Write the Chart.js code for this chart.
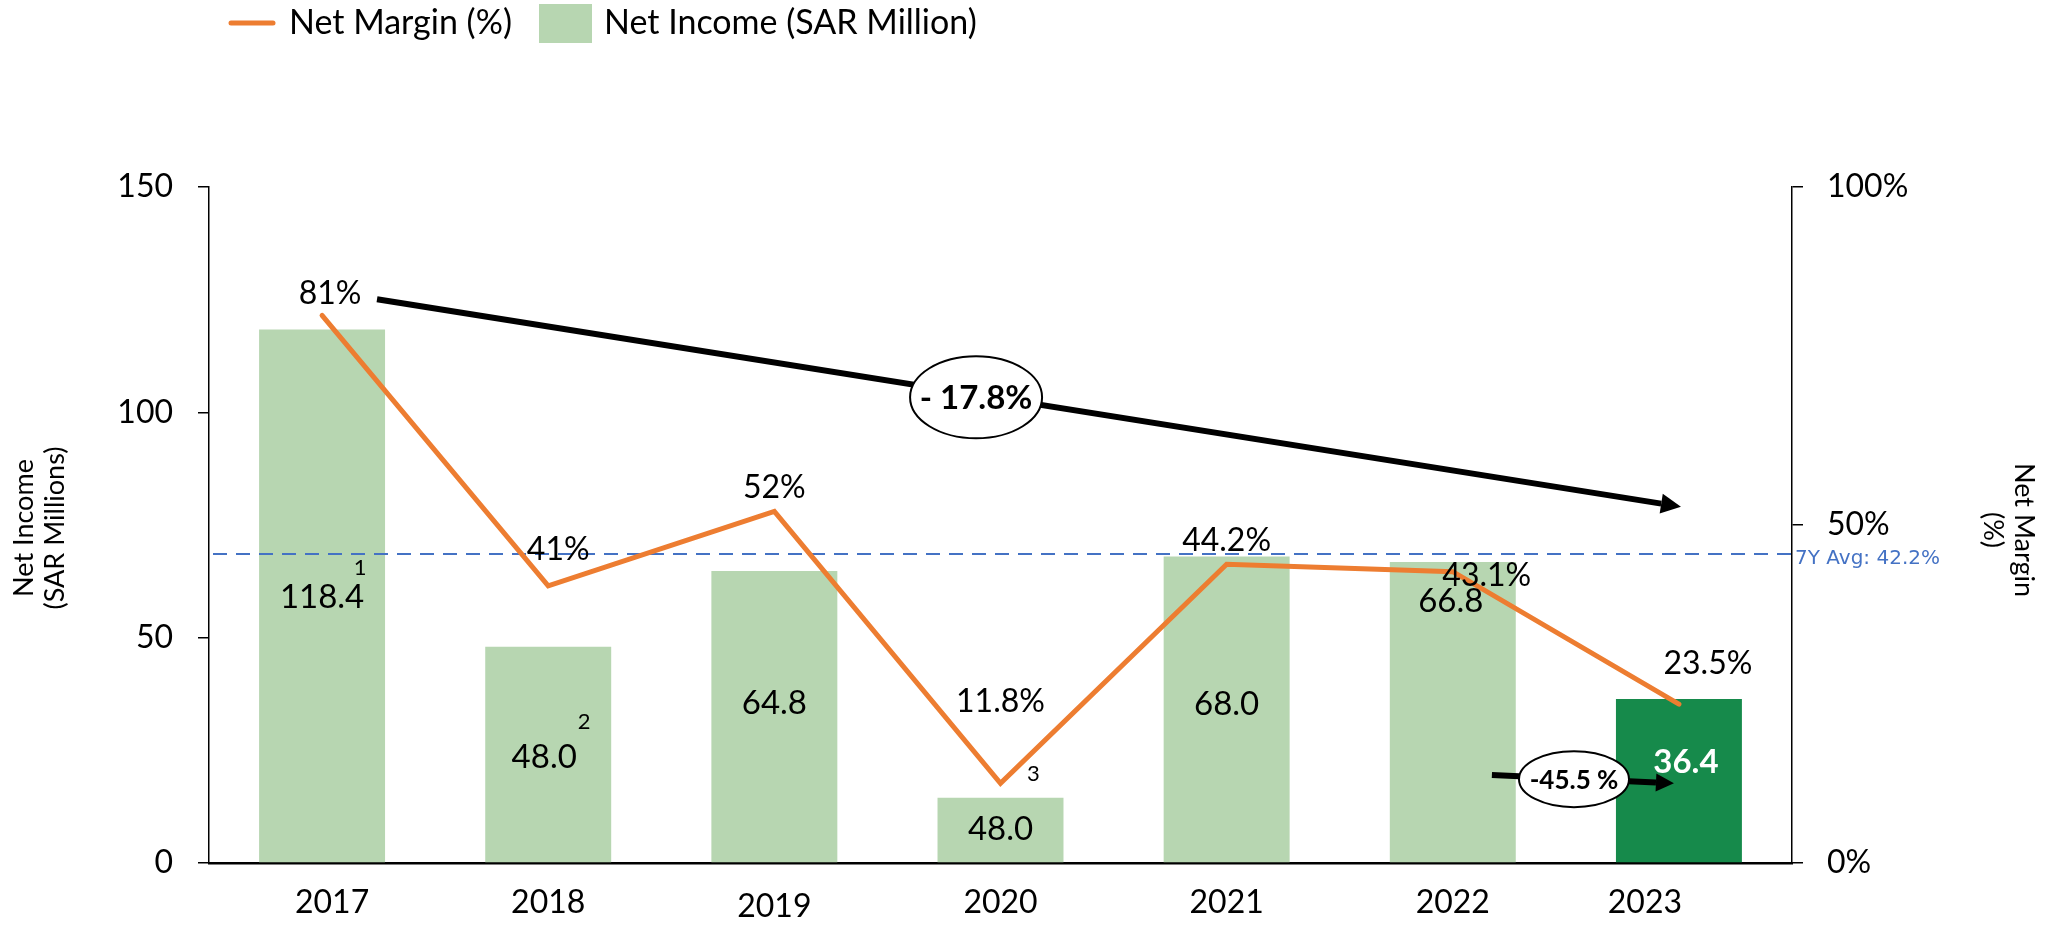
<!DOCTYPE html>
<html>
<head>
<meta charset="utf-8">
<script src="https://cdn.jsdelivr.net/npm/chart.js@4.4.1/dist/chart.umd.min.js"></script>
<style>
  html, body { margin: 0; padding: 0; background: #fff; }
  #myChart { display: block; }
</style>
</head>
<body>
<canvas id="myChart" width="2054" height="926"></canvas>
<script>
  // data
  const years = ['2017', '2018', '2019', '2020', '2021', '2022', '2023'];
  const netIncome = [118.4, 48.0, 64.8, 14.5, 68.0, 66.8, 36.4];
  const incomeLabels = ['118.4', '48.0', '64.8', '48.0', '68.0', '66.8', '36.4'];
  const netMargin = [81, 41, 52, 11.8, 44.2, 43.1, 23.5];
  const marginLabels = ['81%', '41%', '52%', '11.8%', '44.2%', '43.1%', '23.5%'];
  const incomeTicks = [0, 50, 100, 150];
  const marginTicks = [0, 50, 100];
  const footnotes = ['1', '2', '3'];
  const avgLineValue = 45.7;
  const avgText = '7Y Avg: 42.2%';
  const trendText = '- 17.8%';
  const yoyText = '-45.5 %';

  const orange = '#ED7D31';
  const lightGreen = '#B7D6B1';
  const darkGreen = '#168A4B';
  const FONT = 'Lato, "Open Sans", sans-serif';

  // label placement (pixel offsets from the point / value-unit heights for bar labels)
  const marginOffsets = [[8, -22], [10, -36], [0, -24], [0, -82], [0, -24], [34, 4], [29, -40]];
  const barLabelY = [59.0, 23.5, 35.5, 7.5, 35.3, 58.1, 22.4];
  const barLabelDx = [0, -4, 0, 0, 0, -2, 7];
  const yearDx = [10, 0, 0, 0, 0, 0, -34];
  const yearDy = [0, 0, 4, 0, 0, 0, 0];

  function arrow(ctx, x1, y1, x2, y2, lw, head, half) {
    const a = Math.atan2(y2 - y1, x2 - x1);
    const bx = x2 - head * Math.cos(a), by = y2 - head * Math.sin(a);
    ctx.strokeStyle = '#000';
    ctx.fillStyle = '#000';
    ctx.lineWidth = lw;
    ctx.lineCap = 'butt';
    ctx.beginPath(); ctx.moveTo(x1, y1); ctx.lineTo(bx, by); ctx.stroke();
    ctx.beginPath();
    ctx.moveTo(x2, y2);
    ctx.lineTo(bx + half * Math.sin(a), by - half * Math.cos(a));
    ctx.lineTo(bx - half * Math.sin(a), by + half * Math.cos(a));
    ctx.closePath(); ctx.fill();
  }

  function badge(ctx, x, y, rx, ry, text, size) {
    ctx.beginPath();
    ctx.ellipse(x, y, rx, ry, 0, 0, Math.PI * 2);
    ctx.fillStyle = '#fff'; ctx.fill();
    ctx.lineWidth = 2; ctx.strokeStyle = '#000'; ctx.stroke();
    ctx.fillStyle = '#000';
    ctx.font = 'bold ' + size + 'px ' + FONT;
    ctx.textAlign = 'center'; ctx.textBaseline = 'middle';
    ctx.fillText(text, x, y + 1);
  }

  const overlay = {
    id: 'overlay',
    afterDatasetDraw(chart, args) {
      if (args.meta.type !== 'bar') return;
      const { ctx, chartArea } = chart;
      const y = chart.scales.y1.getPixelForValue(avgLineValue);
      ctx.save();
      ctx.strokeStyle = '#4472C4';
      ctx.lineWidth = 2;
      ctx.setLineDash([14, 9]);
      ctx.beginPath();
      ctx.moveTo(chartArea.left + 4, y);
      ctx.lineTo(chartArea.right, y);
      ctx.stroke();
      ctx.restore();
    },
    afterDraw(chart) {
      const { ctx, chartArea } = chart;
      const sx = chart.scales.x, sy = chart.scales.y, sm = chart.scales.y1;
      const X = v => sx.getPixelForValue(v);
      ctx.save();
      ctx.textAlign = 'center';
      ctx.textBaseline = 'middle';

      // year labels
      ctx.font = '32px ' + FONT;
      ctx.fillStyle = '#000';
      years.forEach((yr, i) => {
        ctx.fillText(yr, X(i) + yearDx[i], chartArea.bottom + 40 + yearDy[i]);
      });

      // margin labels
      netMargin.forEach((v, i) => {
        ctx.fillText(marginLabels[i], X(i) + marginOffsets[i][0], sm.getPixelForValue(v) + marginOffsets[i][1]);
      });

      // bar labels
      netIncome.forEach((v, i) => {
        const last = i === netIncome.length - 1;
        ctx.font = (last ? 'bold ' : '') + '33px ' + FONT;
        ctx.fillStyle = last ? '#fff' : '#000';
        ctx.fillText(incomeLabels[i], X(i) + barLabelDx[i], sy.getPixelForValue(barLabelY[i]));
      });

      // footnote marks
      ctx.font = '22px ' + FONT;
      ctx.fillStyle = '#000';
      ctx.fillText(footnotes[0], X(0) + 38, sy.getPixelForValue(barLabelY[0]) - 29);
      ctx.fillText(footnotes[1], X(1) + 36, sy.getPixelForValue(barLabelY[1]) - 35);
      ctx.fillText(footnotes[2], X(3) + 33, sm.getPixelForValue(netMargin[3]) - 9);

      // 7Y average text
      ctx.font = '20px "DejaVu Sans", sans-serif';
      ctx.fillStyle = '#4472C4';
      ctx.textAlign = 'left';
      ctx.fillText(avgText, chartArea.right + 3, sm.getPixelForValue(avgLineValue) + 5);

      // trend arrow 2017 -> 2023
      arrow(ctx, X(0.243), sm.getPixelForValue(83.4), X(6.009), sm.getPixelForValue(52.7), 6, 20, 10);
      badge(ctx, X(2.892), sm.getPixelForValue(68.9), 66, 41, trendText, 33);

      // yoy arrow 2022 -> 2023
      arrow(ctx, X(5.173), sm.getPixelForValue(13.0), X(5.978), sm.getPixelForValue(11.8), 6, 18, 9);
      badge(ctx, X(5.536), sm.getPixelForValue(12.4), 55, 28, yoyText, 26);

      // axis titles
      ctx.fillStyle = '#000';
      ctx.font = '27px ' + FONT;
      ctx.textAlign = 'center';
      const cy = (chartArea.top + chartArea.bottom) / 2;
      ctx.save();
      ctx.translate(24, cy + 3);
      ctx.rotate(-Math.PI / 2);
      ctx.fillText('Net Income', 0, 0);
      ctx.restore();
      ctx.save();
      ctx.translate(55, cy + 3);
      ctx.rotate(-Math.PI / 2);
      ctx.fillText('(SAR Millions)', 0, 0);
      ctx.restore();
      ctx.save();
      ctx.translate(2024, cy + 5);
      ctx.rotate(Math.PI / 2);
      ctx.fillText('Net Margin', 0, 0);
      ctx.restore();
      ctx.save();
      ctx.translate(1993, cy + 5);
      ctx.rotate(Math.PI / 2);
      ctx.fillText('(%)', 0, 0);
      ctx.restore();

      // legend
      ctx.strokeStyle = orange;
      ctx.lineWidth = 5;
      ctx.lineCap = 'round';
      ctx.beginPath(); ctx.moveTo(231, 23); ctx.lineTo(273, 23); ctx.stroke();
      ctx.font = '34px ' + FONT;
      ctx.textAlign = 'left';
      ctx.textBaseline = 'alphabetic';
      ctx.fillStyle = '#000';
      ctx.fillText(chart.data.datasets[0].label, 289, 34);
      ctx.fillStyle = lightGreen;
      ctx.fillRect(539, 4, 53, 39);
      ctx.fillStyle = '#000';
      ctx.fillText(chart.data.datasets[1].label, 604, 34);
      ctx.restore();
    }
  };

  const config = {
    data: {
      labels: years,
      datasets: [
        {
          type: 'line',
          label: 'Net Margin (%)',
          data: netMargin,
          yAxisID: 'y1',
          borderColor: orange,
          borderWidth: 5,
          pointRadius: 0,
          tension: 0,
          borderCapStyle: 'round',
          order: 0
        },
        {
          type: 'bar',
          label: 'Net Income (SAR Million)',
          data: netIncome,
          yAxisID: 'y',
          backgroundColor: years.map((_, i) => i === years.length - 1 ? darkGreen : lightGreen),
          barPercentage: 0.557,
          categoryPercentage: 1,
          order: 1
        }
      ]
    },
    options: {
      responsive: false,
      animation: false,
      devicePixelRatio: 1,
      layout: { padding: { top: 187, left: 0, right: 0, bottom: 0 } },
      plugins: { legend: { display: false }, tooltip: { enabled: false } },
      scales: {
        x: {
          grid: { display: false },
          border: { display: true, color: '#000', width: 2.5 },
          ticks: { display: false },
          afterFit: s => { s.height = 63; }
        },
        y: {
          position: 'left',
          min: 0, max: 150,
          afterBuildTicks: s => { s.ticks = incomeTicks.map(v => ({ value: v })); },
          grid: { drawOnChartArea: false, tickLength: 11, color: '#000', lineWidth: 1.5 },
          border: { color: '#000', width: 1.5 },
          ticks: { color: '#000', font: { family: FONT, size: 32 }, padding: 25 },
          afterFit: s => { s.width = 209; }
        },
        y1: {
          position: 'right',
          min: 0, max: 100,
          afterBuildTicks: s => { s.ticks = marginTicks.map(v => ({ value: v })); },
          grid: { drawOnChartArea: false, tickLength: 11, color: '#000', lineWidth: 1.5 },
          border: { color: '#000', width: 1.5 },
          ticks: { color: '#000', font: { family: FONT, size: 32 }, padding: 24, callback: v => v + '%' },
          afterFit: s => { s.width = 262; }
        }
      }
    },
    plugins: [overlay]
  };

  const ctx = document.getElementById('myChart');
  const myChart = new Chart(ctx, config);
</script>
</body>
</html>
